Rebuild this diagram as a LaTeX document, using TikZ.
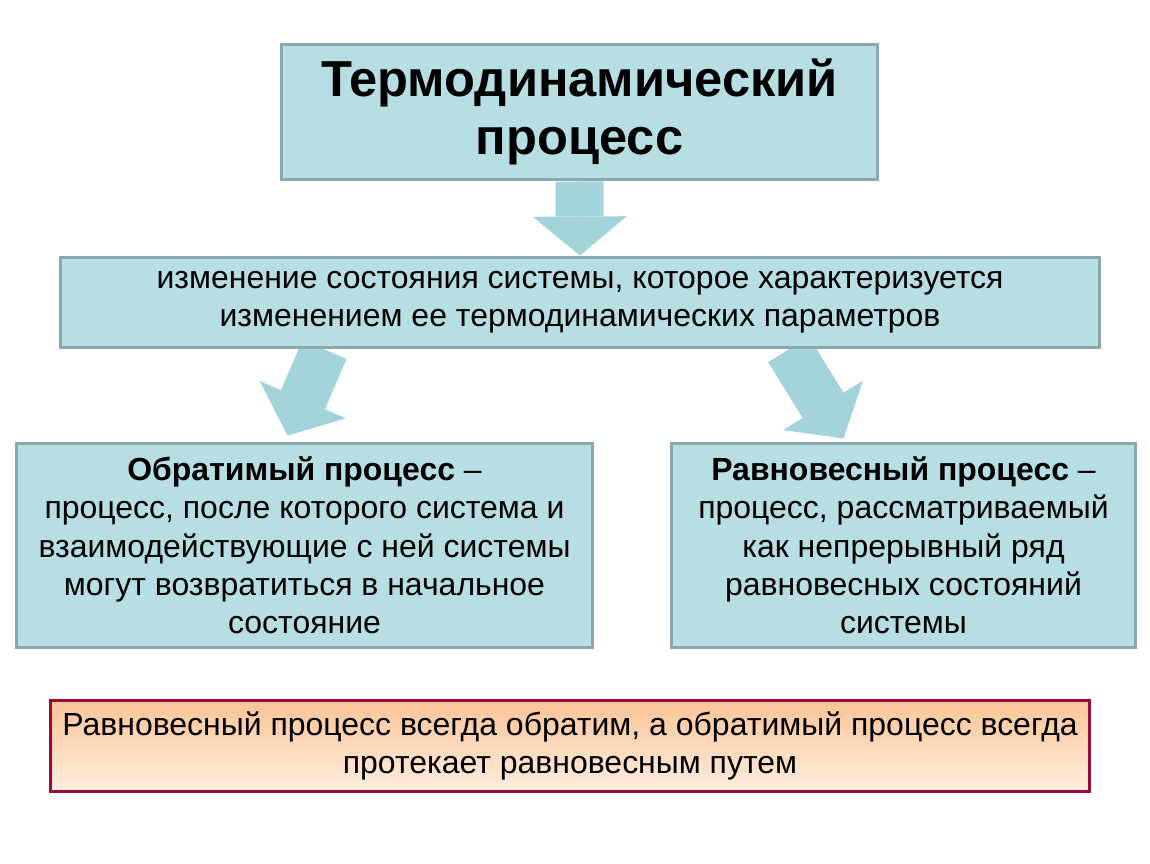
\documentclass[tikz,border=0pt]{standalone}
\usepackage{fontspec}
\setmainfont{Liberation Sans}
\usetikzlibrary{arrows.meta, calc, backgrounds}

\definecolor{boxfill}{HTML}{B7DEE2}
\definecolor{boxline}{HTML}{8BA9AC}
\definecolor{arrowfill}{HTML}{A3D4D9}
\definecolor{notefill}{HTML}{FBC497}
\definecolor{notefade}{HTML}{FEEEE0}
\definecolor{noteline}{HTML}{9A0A3C}

\tikzset{
	procbox/.style={draw=boxline, line width=0.06cm, fill=boxfill, align=center, inner sep=0pt,
		font=\fontsize{18.2}{21.8}\selectfont},
	notebox/.style={draw=noteline, line width=0.06cm, top color=notefill, bottom color=notefade,
		align=center, inner sep=0pt, font=\fontsize{18.2}{21.8}\selectfont},
	blockarrow/.style={draw=arrowfill, line width=0.96cm,
		-{Triangle[width=1.88cm, length=0.78cm, line width=0pt]}},
}

\begin{document}
\begin{tikzpicture}[x=0.02cm, y=-0.02cm]
		\useasboundingbox (0,0) rectangle (1150,864);
		
		\node[procbox, minimum width=11.94cm, minimum height=2.72cm,
			font=\fontsize{28.8}{33}\selectfont\bfseries] (proc) at (579.5,112)
			{Термодинамический\\процесс};
		\node[procbox, minimum width=20.8cm, minimum height=1.82cm] (def) at (580,302.5)
			{изменение состояния системы, которое характеризуется\\
			 изменением ее термодинамических параметров};
		\node[procbox, minimum width=11.54cm, minimum height=4.1cm] (rev) at (304.5,545.5)
			{\textbf{Обратимый процесс} –\\
			 процесс, после которого система и\\
			 взаимодействующие с ней системы\\
			 могут возвратиться в начальное\\
			 состояние};
		\node[procbox, minimum width=9.3cm, minimum height=4.1cm] (equ) at (903.5,545.5)
			{\textbf{Равновесный процесс} –\\
			 процесс, рассматриваемый\\
			 как непрерывный ряд\\
			 равновесных состояний\\
			 системы};
		\node[notebox, minimum width=20.8cm, minimum height=1.84cm] (note) at (570,746)
			{Равновесный процесс всегда обратим, а обратимый процесс всегда\\
			 протекает равновесным путем};
		
		\begin{scope}[on background layer]
			\draw[blockarrow] (proc.south) -- (def.north);
			\draw[blockarrow] ($(def.south west)!0.255!(def.south east)$) -- ($(rev.north)+(-17,-6)$);
			\draw[blockarrow] ($(def.south west)!0.70!(def.south east)$) -- ($(equ.north)+(-60,-3)$);
		\end{scope}
	\end{tikzpicture}
\end{document}
